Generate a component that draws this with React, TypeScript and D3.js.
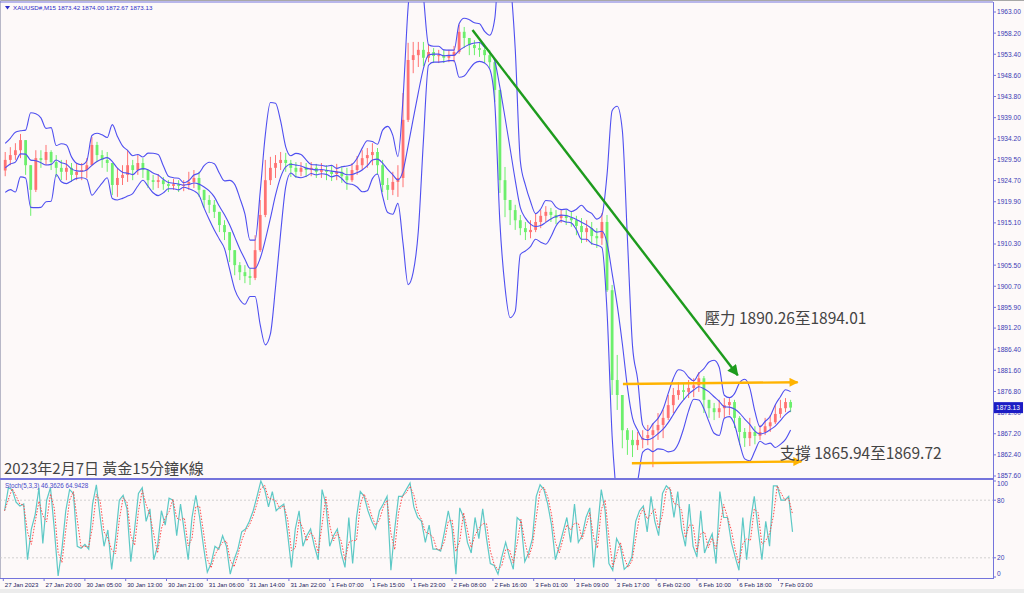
import React from 'react';
import * as d3 from 'd3';

// XAUUSD M15 chart, one candle = 4 M15 bars, stoch sampled every 3 bars
const timeLabels = [
  '27 Jan 2023', '27 Jan 20:00', '30 Jan 05:00', '30 Jan 13:00', '30 Jan 21:00',
  '31 Jan 06:00', '31 Jan 14:00', '31 Jan 22:00', '1 Feb 07:00', '1 Feb 15:00',
  '1 Feb 23:00', '2 Feb 08:00', '2 Feb 16:00', '3 Feb 01:00', '3 Feb 09:00',
  '3 Feb 17:00', '6 Feb 02:00', '6 Feb 10:00', '6 Feb 18:00', '7 Feb 03:00',
];

const priceTicks = [
  1963.0, 1958.2, 1953.4, 1948.6, 1943.8, 1939.0, 1934.2, 1929.5, 1924.7, 1919.9, 1915.1, 1910.3,
  1905.5, 1900.7, 1895.9, 1891.2, 1886.4, 1881.6, 1876.8, 1872.0, 1867.2, 1862.4, 1857.6,
];

const stochTicks = [100, 80, 20, 0];
const stochLevels = [80, 20];

const firstOpen = 1927.0;
const warmupCloses = [1926.0, 1929.5, 1924.5, 1928.5];

const closes = [
  1929.4, 1930.5, 1931.6, 1933.9, 1928.2, 1922.6, 1929.8, 1929.4, 1931.2, 1928.9,
  1927.6, 1926.7, 1927.6, 1926.0, 1926.7, 1927.1, 1928.2, 1932.8, 1930.5, 1929.4,
  1928.7, 1923.7, 1925.3, 1926.0, 1928.2, 1927.1, 1928.7, 1927.1, 1924.8, 1924.4,
  1924.8, 1923.9, 1923.5, 1923.9, 1923.5, 1923.7, 1924.4, 1925.3, 1922.6, 1920.3,
  1919.2, 1917.6, 1914.6, 1913.0, 1908.9, 1905.5, 1903.9, 1903.0, 1902.6, 1908.9,
  1916.9, 1924.8, 1927.6, 1928.7, 1929.4, 1928.7, 1927.6, 1926.7, 1927.6, 1927.1,
  1927.6, 1926.7, 1927.1, 1926.7, 1926.2, 1926.7, 1925.7, 1924.8, 1927.1, 1928.2,
  1929.8, 1930.5, 1931.2, 1928.2, 1923.7, 1922.6, 1924.4, 1925.3, 1938.5, 1952.1,
  1953.2, 1954.4, 1952.6, 1953.9, 1953.0, 1953.2, 1952.6, 1953.0, 1953.9, 1958.5,
  1957.1, 1955.5, 1954.8, 1954.4, 1953.2, 1951.6, 1945.3, 1924.8, 1920.3, 1918.0,
  1915.7, 1913.9, 1913.0, 1913.5, 1915.3, 1916.7, 1917.6, 1916.9, 1916.2, 1916.9,
  1916.2, 1915.7, 1914.4, 1913.0, 1913.9, 1912.1, 1911.6, 1915.3, 1899.8, 1879.4,
  1876.0, 1868.0, 1865.8, 1864.6, 1865.8, 1866.2, 1866.9, 1868.0, 1869.2, 1870.8,
  1873.7, 1876.0, 1877.1, 1876.7, 1877.6, 1878.2, 1879.8, 1874.9, 1873.0, 1872.1,
  1873.0, 1873.7, 1874.4, 1870.8, 1867.6, 1866.2, 1867.6, 1866.7, 1867.6, 1868.9,
  1869.8, 1871.7, 1873.0, 1874.4, 1873.13,
];

const highs = [
  1931.2, 1932.3, 1933.2, 1935.3, 1932.8, 1928.2, 1931.6, 1931.6, 1932.8, 1931.6,
  1930.5, 1929.4, 1929.4, 1928.7, 1928.7, 1928.7, 1929.8, 1934.6, 1933.5, 1931.6,
  1931.2, 1928.7, 1927.6, 1928.2, 1931.6, 1929.4, 1930.5, 1929.8, 1926.7, 1926.0,
  1926.2, 1925.5, 1924.8, 1925.1, 1924.8, 1924.8, 1926.7, 1927.1, 1926.7, 1922.6,
  1921.4, 1920.3, 1917.6, 1915.7, 1913.0, 1908.9, 1906.2, 1905.5, 1904.8, 1912.3,
  1920.3, 1929.4, 1930.1, 1930.5, 1931.2, 1931.0, 1929.4, 1928.9, 1928.9, 1928.7,
  1928.9, 1928.5, 1928.7, 1928.2, 1928.0, 1928.5, 1928.0, 1927.6, 1928.7, 1930.3,
  1931.6, 1932.1, 1933.2, 1932.1, 1929.4, 1925.3, 1926.7, 1928.2, 1944.6, 1956.0,
  1956.2, 1956.2, 1956.2, 1955.7, 1954.8, 1954.4, 1954.4, 1954.4, 1955.3, 1960.1,
  1959.6, 1957.1, 1956.6, 1956.2, 1955.1, 1954.4, 1952.1, 1945.3, 1927.8, 1920.3,
  1919.2, 1916.9, 1915.3, 1915.7, 1917.3, 1918.0, 1918.9, 1918.5, 1918.0, 1918.0,
  1918.0, 1917.6, 1916.7, 1916.2, 1915.7, 1915.3, 1913.9, 1917.3, 1916.9, 1901.0,
  1885.1, 1876.0, 1868.5, 1868.0, 1867.6, 1868.0, 1869.2, 1869.6, 1871.9, 1872.6,
  1876.0, 1877.6, 1878.9, 1878.7, 1879.4, 1879.8, 1881.2, 1880.3, 1874.9, 1874.2,
  1874.9, 1875.3, 1875.3, 1874.9, 1871.2, 1868.5, 1870.8, 1868.9, 1869.2, 1870.8,
  1871.4, 1873.7, 1874.9, 1875.3, 1874.9,
];

const lows = [
  1925.7, 1928.2, 1929.4, 1929.8, 1926.0, 1916.7, 1922.1, 1927.6, 1928.2, 1927.1,
  1925.5, 1924.8, 1924.8, 1924.4, 1924.8, 1924.8, 1925.3, 1928.2, 1928.9, 1927.6,
  1926.7, 1921.4, 1921.0, 1923.7, 1924.4, 1924.8, 1926.0, 1925.3, 1923.0, 1922.6,
  1923.0, 1922.6, 1922.1, 1922.6, 1922.1, 1922.3, 1922.6, 1923.0, 1921.0, 1918.5,
  1917.3, 1916.2, 1913.0, 1911.2, 1906.2, 1903.2, 1902.1, 1901.4, 1901.0, 1902.1,
  1908.5, 1916.4, 1923.7, 1925.3, 1927.1, 1926.7, 1925.5, 1925.3, 1925.7, 1925.5,
  1925.7, 1925.3, 1925.3, 1924.8, 1924.6, 1924.8, 1924.2, 1922.6, 1924.4, 1926.0,
  1927.1, 1927.6, 1928.2, 1926.0, 1922.1, 1920.3, 1921.4, 1921.0, 1923.2, 1938.0,
  1949.1, 1950.5, 1950.7, 1951.6, 1951.4, 1951.4, 1951.4, 1951.6, 1951.6, 1953.5,
  1954.8, 1953.2, 1953.2, 1952.8, 1951.4, 1950.3, 1942.6, 1921.9, 1916.4, 1914.6,
  1913.5, 1912.3, 1911.2, 1911.6, 1913.0, 1913.9, 1915.3, 1915.3, 1914.8, 1915.1,
  1914.6, 1914.2, 1912.3, 1910.5, 1910.8, 1910.1, 1909.4, 1910.1, 1899.4, 1876.0,
  1872.6, 1863.9, 1862.4, 1861.9, 1863.5, 1863.9, 1864.6, 1859.6, 1865.8, 1866.2,
  1870.3, 1871.9, 1874.9, 1874.9, 1875.3, 1875.5, 1876.7, 1871.9, 1870.8, 1870.3,
  1870.8, 1870.8, 1871.4, 1868.5, 1864.6, 1864.2, 1864.4, 1864.8, 1865.8, 1866.9,
  1867.6, 1869.4, 1870.8, 1872.1, 1872.1,
];

const stochMain = [
  69, 93, 91, 78, 74, 76, 18, 50, 65, 93,
  35, 80, 93, 50, 1, 29, 69, 91, 87, 32,
  30, 34, 29, 76, 96, 62, 32, 49, 8, 40,
  80, 85, 71, 16, 50, 87, 93, 58, 71, 18,
  32, 69, 54, 82, 80, 43, 76, 47, 18, 62,
  85, 62, 32, 5, 14, 32, 29, 43, 32, 3,
  18, 29, 47, 50, 58, 69, 84, 100, 91, 73,
  89, 69, 73, 76, 45, 10, 50, 69, 32, 43,
  50, 32, 18, 91, 76, 32, 43, 50, 25, 10,
  62, 14, 62, 89, 84, 69, 58, 50, 69, 76,
  84, 7, 50, 84, 84, 91, 98, 73, 62, 58,
  36, 54, 29, 29, 27, 47, 69, 50, 3, 72,
  62, 36, 25, 62, 40, 71, 40, 14, 12, 3,
  21, 36, 21, 8, 62, 58, 16, 25, 40, 84,
  96, 91, 76, 54, 18, 32, 47, 62, 36, 76,
  36, 43, 62, 72, 10, 50, 91, 69, 14, 7,
  40, 32, 8, 12, 21, 58, 69, 74, 47, 84,
  58, 43, 87, 95, 91, 62, 89, 50, 32, 76,
  32, 21, 69, 25, 36, 45, 14, 89, 62, 62,
  36, 21, 7, 62, 18, 58, 84, 50, 18, 58,
  32, 95, 95, 80, 80, 84, 47,
];

const BARS_PER_CANDLE = 4;
const BARS_PER_STOCH = 3;
const BARS_PER_LABEL = 32;
const BB_PERIOD = 5;
const BB_DEV = 2.5;

const W = 1024;
const H = 593;
const PLOT_R = 993;
const MAIN_TOP = 2;
const MAIN_BOTTOM = 478;
const SUB_TOP = 480;
const SUB_BOTTOM = 578;

const SMALL = "'Liberation Sans', 'DejaVu Sans', sans-serif";
const CJK = "'Noto Sans CJK TC', 'Noto Sans CJK SC', sans-serif";
const AXIS = '#7474dc';

const x = d3.scaleLinear().domain([0, 620]).range([3.3, 3.3 + 620 * 1.275]);
const y = d3.scaleLinear().domain([1857.6, 1963]).range([476, 12]);
const ys = d3.scaleLinear().domain([0, 100]).range([577, 481]);

const candles = closes.map((c, i) => {
  const o = i === 0 ? firstOpen : closes[i - 1];
  return {
    i,
    o,
    c,
    h: Math.max(highs[i], o, c),
    l: Math.min(lows[i], o, c),
    cx: x(i * BARS_PER_CANDLE + 1.5),
  };
});

// bollinger bands on the candle closes
const allCloses = [...warmupCloses, ...closes];
const bands = closes.map((_, i) => {
  const j = i + warmupCloses.length;
  const win = allCloses.slice(Math.max(0, j - BB_PERIOD + 1), j + 1);
  const m = d3.mean(win) as number;
  const sd = d3.deviation(win) ?? 0;
  return { cx: candles[i].cx, mid: m, up: m + BB_DEV * sd, lo: m - BB_DEV * sd };
});

const stochSignal = stochMain.map((v, i) => (i === 0 ? v : (v + stochMain[i - 1]) / 2));
const sx = (i: number) => x(i * BARS_PER_STOCH + 1);

const bandLine = (key: 'up' | 'mid' | 'lo') =>
  d3.line<(typeof bands)[number]>().x((d) => d.cx).y((d) => y(d[key])).curve(d3.curveMonotoneX)(bands) as string;

const stochLine = (vals: number[]) =>
  d3.line<number>().x((_, i) => sx(i)).y((d) => ys(d))(vals) as string;

// annotation anchors (bar index, price)
const greenArrow = { from: [368, 1958.9], to: [576, 1880.5] };
const resistArrow = { from: [486, 1878.5], to: [623, 1878.9] };
const supportArrow = { from: [493, 1860.5], to: [626, 1860.9] };
const resistText = { bar: 550, price: 1892.1, text: '壓力 1890.26至1894.01' };
const supportText = { bar: 609, price: 1861.4, text: '支撐 1865.94至1869.72' };
const lastPrice = closes[closes.length - 1];

const App: React.FC = () => {
  return (
    <div style={{ position: 'fixed', left: 0, top: 0 }}>
      <svg width={W} height={H} style={{ display: 'block' }}>
        <defs>
          <clipPath id="mainClip">
            <rect x={0} y={MAIN_TOP} width={PLOT_R} height={MAIN_BOTTOM - MAIN_TOP} />
          </clipPath>
          <clipPath id="subClip">
            <rect x={0} y={SUB_TOP} width={PLOT_R} height={SUB_BOTTOM - SUB_TOP} />
          </clipPath>
          <marker id="headGreen" viewBox="0 0 10 10" refX={9} refY={5} markerWidth={13} markerHeight={11}
            markerUnits="userSpaceOnUse" orient="auto">
            <path d="M0,0 L10,5 L0,10 Z" fill="#1d9b1d" />
          </marker>
          <marker id="headOrange" viewBox="0 0 10 10" refX={9} refY={5} markerWidth={11} markerHeight={9}
            markerUnits="userSpaceOnUse" orient="auto">
            <path d="M0,0 L10,5 L0,10 Z" fill="#ffb300" />
          </marker>
        </defs>

        <rect x={0} y={0} width={W} height={H} fill="#fdf9f9" />
        <rect x={0} y={589} width={W} height={4} fill="#ececec" />
        <line x1={0} x2={W} y1={0.5} y2={0.5} stroke="#a8a8a8" />
        <line x1={0.5} x2={0.5} y1={0} y2={SUB_BOTTOM} stroke="#b8b8c8" />

        {/* candles */}
        <g>
          {candles.map((d) => {
            const col = d.c >= d.o ? '#ff7272' : '#6cef6c';
            const top = y(Math.max(d.o, d.c));
            const bot = y(Math.min(d.o, d.c));
            return (
              <g key={d.i}>
                <line x1={d.cx} x2={d.cx} y1={y(d.h)} y2={y(d.l)} stroke={col} strokeWidth={1} />
                <rect x={d.cx - 1.4} y={top} width={2.8} height={Math.max(1, bot - top)} fill={col} />
              </g>
            );
          })}
        </g>

        {/* bollinger bands */}
        <g clipPath="url(#mainClip)" fill="none" stroke="#4f4ff0" strokeWidth={1.1}>
          <path d={bandLine('up')} />
          <path d={bandLine('mid')} />
          <path d={bandLine('lo')} />
        </g>

        {/* annotations */}
        <line x1={x(greenArrow.from[0])} y1={y(greenArrow.from[1])} x2={x(greenArrow.to[0])} y2={y(greenArrow.to[1])}
          stroke="#1d9b1d" strokeWidth={2.4} markerEnd="url(#headGreen)" />
        <line x1={x(resistArrow.from[0])} y1={y(resistArrow.from[1])} x2={x(resistArrow.to[0])} y2={y(resistArrow.to[1])}
          stroke="#ffb300" strokeWidth={2.4} markerEnd="url(#headOrange)" />
        <line x1={x(supportArrow.from[0])} y1={y(supportArrow.from[1])} x2={x(supportArrow.to[0])} y2={y(supportArrow.to[1])}
          stroke="#ffb300" strokeWidth={2.4} markerEnd="url(#headOrange)" />
        <text x={x(resistText.bar)} y={y(resistText.price)} fontFamily={CJK} fontSize={15.5} fill="#444">
          {resistText.text}
        </text>
        <text x={x(supportText.bar)} y={y(supportText.price)} fontFamily={CJK} fontSize={15.5} fill="#444">
          {supportText.text}
        </text>
        <text x={4} y={474} fontFamily={CJK} fontSize={15} fill="#444">2023年2月7日 黃金15分鐘K線</text>

        {/* header */}
        <path d="M5,6 L10,6 L7.5,9.5 Z" fill="#2b2bc8" />
        <text x={13} y={10} fontFamily={SMALL} fontSize={6.2} fill="#2b2bc8">
          XAUUSD#,M15 1873.42 1874.00 1872.67 1873.13
        </text>

        {/* stochastic panel */}
        <g stroke="#c8c8c8" strokeDasharray="2,2" strokeWidth={0.8}>
          {stochLevels.map((v) => (
            <line key={v} x1={0} x2={PLOT_R} y1={ys(v)} y2={ys(v)} />
          ))}
        </g>
        <g clipPath="url(#subClip)" fill="none">
          <path d={stochLine(stochMain)} stroke="#5ec9c6" strokeWidth={1.2} />
          <path d={stochLine(stochSignal)} stroke="#ff4b4b" strokeWidth={1} strokeDasharray="1.5,1.5" />
        </g>
        <text x={5} y={488} fontFamily={SMALL} fontSize={6.3} fill="#4848c8">Stoch(5,3,3) 46.3626 64.9428</text>

        {/* frame */}
        <line x1={0} x2={PLOT_R} y1={2} y2={2} stroke={AXIS} />
        <line x1={0} x2={PLOT_R} y1={479} y2={479} stroke={AXIS} strokeWidth={2} />
        <line x1={0} x2={PLOT_R} y1={SUB_BOTTOM + 0.5} y2={SUB_BOTTOM + 0.5} stroke={AXIS} />
        <line x1={PLOT_R + 0.5} x2={PLOT_R + 0.5} y1={2} y2={SUB_BOTTOM + 1} stroke={AXIS} />

        {/* price axis */}
        <g fontFamily={SMALL} fontSize={6.6} fill="#3a3ab4">
          {priceTicks.map((p) => (
            <g key={p}>
              <line x1={PLOT_R} x2={PLOT_R + 3} y1={y(p)} y2={y(p)} stroke={AXIS} />
              <text x={997} y={y(p) + 2.4}>{p.toFixed(2)}</text>
            </g>
          ))}
        </g>
        <rect x={994} y={y(lastPrice) - 5.5} width={29} height={11} fill="#1c1cc4" />
        <text x={996} y={y(lastPrice) + 2.4} fontFamily={SMALL} fontSize={6.6} fill="#ffffff">
          {lastPrice.toFixed(2)}
        </text>

        {/* stoch axis */}
        <g fontFamily={SMALL} fontSize={6.6} fill="#3a3ab4">
          {stochTicks.map((v) => (
            <g key={v}>
              <line x1={PLOT_R} x2={PLOT_R + 3} y1={ys(v)} y2={ys(v)} stroke={AXIS} />
              <text x={997} y={Math.min(Math.max(ys(v) + 2.4, 486), 576)}>{v}</text>
            </g>
          ))}
        </g>

        {/* time axis */}
        <g fontFamily={SMALL} fontSize={6.1} fill="#24245e">
          {timeLabels.map((t, n) => {
            const tx = x(n * BARS_PER_LABEL);
            return (
              <g key={t}>
                <line x1={tx} x2={tx} y1={SUB_BOTTOM} y2={SUB_BOTTOM + 3} stroke={AXIS} />
                <text x={tx + 1.5} y={587}>{t}</text>
              </g>
            );
          })}
        </g>
      </svg>
    </div>
  );
};

export default App;
